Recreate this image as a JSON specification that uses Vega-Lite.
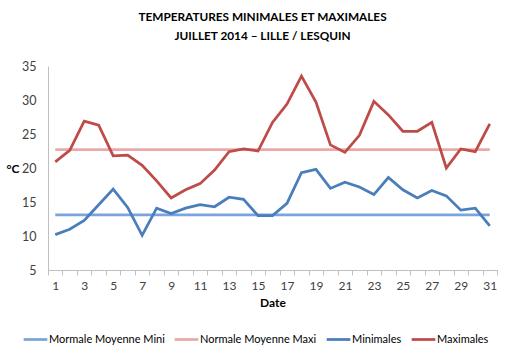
{
  "$schema": "https://vega.github.io/schema/vega-lite/v6.json",
  "width": 449,
  "height": 204,
  "autosize": {"type": "none"},
  "padding": {"left": 48, "top": 66, "right": 26, "bottom": 85},
  "background": "white",
  "title": {
    "text": ["TEMPERATURES MINIMALES ET MAXIMALES", "JUILLET 2014 – LILLE / LESQUIN"],
    "font": "Lato",
    "fontSize": 11.8,
    "fontWeight": "bold",
    "color": "#000000",
    "lineHeight": 19,
    "anchor": "middle",
    "frame": "group",
    "dx": -10,
    "offset": 17
  },
  "config": {
    "view": {"stroke": null},
    "font": "Lato"
  },
  "data": {
    "values": [
      {"day": 1, "serie": "Mormale Moyenne Mini", "value": 13.1},
      {"day": 31, "serie": "Mormale Moyenne Mini", "value": 13.1},
      {"day": 1, "serie": "Normale Moyenne Maxi", "value": 22.7},
      {"day": 31, "serie": "Normale Moyenne Maxi", "value": 22.7},
      {"day": 1, "serie": "Minimales", "value": 10.2},
      {"day": 2, "serie": "Minimales", "value": 11.0},
      {"day": 3, "serie": "Minimales", "value": 12.3},
      {"day": 4, "serie": "Minimales", "value": 14.6},
      {"day": 5, "serie": "Minimales", "value": 16.9},
      {"day": 6, "serie": "Minimales", "value": 14.2},
      {"day": 7, "serie": "Minimales", "value": 10.1},
      {"day": 8, "serie": "Minimales", "value": 14.1},
      {"day": 9, "serie": "Minimales", "value": 13.3},
      {"day": 10, "serie": "Minimales", "value": 14.1},
      {"day": 11, "serie": "Minimales", "value": 14.6},
      {"day": 12, "serie": "Minimales", "value": 14.3},
      {"day": 13, "serie": "Minimales", "value": 15.7},
      {"day": 14, "serie": "Minimales", "value": 15.4},
      {"day": 15, "serie": "Minimales", "value": 13.0},
      {"day": 16, "serie": "Minimales", "value": 13.0},
      {"day": 17, "serie": "Minimales", "value": 14.8},
      {"day": 18, "serie": "Minimales", "value": 19.3},
      {"day": 19, "serie": "Minimales", "value": 19.8},
      {"day": 20, "serie": "Minimales", "value": 17.0},
      {"day": 21, "serie": "Minimales", "value": 17.9},
      {"day": 22, "serie": "Minimales", "value": 17.2},
      {"day": 23, "serie": "Minimales", "value": 16.1},
      {"day": 24, "serie": "Minimales", "value": 18.6},
      {"day": 25, "serie": "Minimales", "value": 16.8},
      {"day": 26, "serie": "Minimales", "value": 15.6},
      {"day": 27, "serie": "Minimales", "value": 16.7},
      {"day": 28, "serie": "Minimales", "value": 15.9},
      {"day": 29, "serie": "Minimales", "value": 13.8},
      {"day": 30, "serie": "Minimales", "value": 14.1},
      {"day": 31, "serie": "Minimales", "value": 11.5},
      {"day": 1, "serie": "Maximales", "value": 20.9},
      {"day": 2, "serie": "Maximales", "value": 22.6},
      {"day": 3, "serie": "Maximales", "value": 26.9},
      {"day": 4, "serie": "Maximales", "value": 26.3},
      {"day": 5, "serie": "Maximales", "value": 21.8},
      {"day": 6, "serie": "Maximales", "value": 21.9},
      {"day": 7, "serie": "Maximales", "value": 20.4},
      {"day": 8, "serie": "Maximales", "value": 18.1},
      {"day": 9, "serie": "Maximales", "value": 15.6},
      {"day": 10, "serie": "Maximales", "value": 16.8},
      {"day": 11, "serie": "Maximales", "value": 17.7},
      {"day": 12, "serie": "Maximales", "value": 19.7},
      {"day": 13, "serie": "Maximales", "value": 22.4},
      {"day": 14, "serie": "Maximales", "value": 22.8},
      {"day": 15, "serie": "Maximales", "value": 22.5},
      {"day": 16, "serie": "Maximales", "value": 26.7},
      {"day": 17, "serie": "Maximales", "value": 29.4},
      {"day": 18, "serie": "Maximales", "value": 33.5},
      {"day": 19, "serie": "Maximales", "value": 29.7},
      {"day": 20, "serie": "Maximales", "value": 23.4},
      {"day": 21, "serie": "Maximales", "value": 22.3},
      {"day": 22, "serie": "Maximales", "value": 24.8},
      {"day": 23, "serie": "Maximales", "value": 29.8},
      {"day": 24, "serie": "Maximales", "value": 27.8},
      {"day": 25, "serie": "Maximales", "value": 25.4},
      {"day": 26, "serie": "Maximales", "value": 25.4},
      {"day": 27, "serie": "Maximales", "value": 26.7},
      {"day": 28, "serie": "Maximales", "value": 20.0},
      {"day": 29, "serie": "Maximales", "value": 22.8},
      {"day": 30, "serie": "Maximales", "value": 22.4},
      {"day": 31, "serie": "Maximales", "value": 26.5}
    ]
  },
  "mark": {"type": "line", "strokeWidth": 2.75, "interpolate": "linear"},
  "encoding": {
    "x": {
      "field": "day",
      "type": "quantitative",
      "scale": {"domain": [0.5, 31.5], "nice": false, "zero": false},
      "axis": {
        "values": [0.5,1.5,2.5,3.5,4.5,5.5,6.5,7.5,8.5,9.5,10.5,11.5,12.5,13.5,14.5,15.5,16.5,17.5,18.5,19.5,20.5,21.5,22.5,23.5,24.5,25.5,26.5,27.5,28.5,29.5,30.5,31.5],
        "labelExpr": "((datum.value + 0.5) % 2 == 1 && datum.value < 31) ? format(datum.value + 0.5, 'd') : ''",
        "labelOffset": 7.24,
        "labelFlush": false,
        "labelOverlap": false,
        "labelBound": false,
        "labelFont": "Lato",
        "labelFontSize": 12,
        "labelColor": "#404040",
        "labelPadding": 5,
        "tickSize": 5,
        "tickColor": "#bfbfbf",
        "domainColor": "#bfbfbf",
        "grid": false,
        "title": "Date",
        "titleFont": "Lato",
        "titleFontSize": 12,
        "titleFontWeight": "bold",
        "titleColor": "#000000",
        "titlePadding": 6
      }
    },
    "y": {
      "field": "value",
      "type": "quantitative",
      "scale": {"domain": [5, 35], "nice": false, "zero": false},
      "axis": {
        "values": [5, 10, 15, 20, 25, 30, 35],
        "ticks": false,
        "grid": false,
        "domainColor": "#bfbfbf",
        "labelFont": "Lato",
        "labelFontSize": 12.5,
        "labelColor": "#404040",
        "labelPadding": 12,
        "title": "°C",
        "titleAngle": 0,
        "titleAlign": "left",
        "titleBaseline": "middle",
        "titleX": -42,
        "titleY": 102,
        "titleFont": "Lato",
        "titleFontSize": 12,
        "titleFontWeight": "bold",
        "titleColor": "#000000"
      }
    },
    "color": {
      "field": "serie",
      "type": "nominal",
      "scale": {
        "domain": ["Mormale Moyenne Mini", "Normale Moyenne Maxi", "Minimales", "Maximales"],
        "range": ["#7aa5dc", "#eaa9a8", "#4a7ebb", "#be4b48"]
      },
      "legend": {
        "orient": "none",
        "direction": "horizontal",
        "legendX": -26,
        "legendY": 260,
        "title": null,
        "symbolType": "stroke",
        "symbolSize": 560,
        "symbolStrokeWidth": 2.75,
        "labelFont": "Lato",
        "labelFontSize": 11,
        "labelColor": "#000000",
        "labelOffset": 0,
        "columnPadding": 4,
        "gridAlign": "none"
      }
    },
    "order": {"field": "day"}
  }
}
